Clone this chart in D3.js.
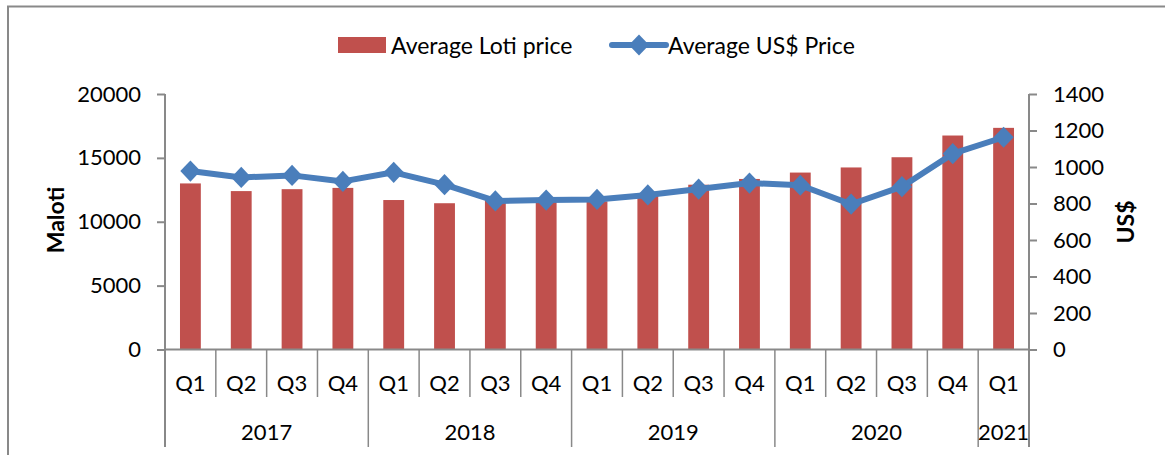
<!DOCTYPE html>

<head>
  <meta charset="utf-8">
  <title>Loti and US$ price</title>
  <script src="https://d3js.org/d3.v7.min.js"></script>
</head>

<body style="margin:0;background:#fff">
  <style>
  text {
    font-family: Lato, "Open Sans", sans-serif;
    fill: #000;
  }
  </style>
  <script>
    var quarters = ['Q1', 'Q2', 'Q3', 'Q4', 'Q1', 'Q2', 'Q3', 'Q4', 'Q1', 'Q2', 'Q3', 'Q4', 'Q1', 'Q2', 'Q3', 'Q4', 'Q1'];
    var years = ['2017', '2017', '2017', '2017', '2018', '2018', '2018', '2018', '2019', '2019', '2019', '2019', '2020', '2020', '2020', '2020', '2021'];
    var lotiPrice = [13000, 12400, 12550, 12650, 11700, 11450, 11700, 11600, 11600, 12100, 12900, 13350, 13850, 14250, 15050, 16750, 17350];
    var usdPrice = [978, 943, 954, 921, 971, 903, 814, 819, 822, 847, 879, 912, 900, 796, 892, 1073, 1163];
    var lotiTicks = [0, 5000, 10000, 15000, 20000];
    var usdTicks = [0, 200, 400, 600, 800, 1000, 1200, 1400];

    var width = 1165;
    var height = 455;
    var plotLeft = 165, plotRight = 1029, plotTop = 94, plotBottom = 349.5;
    var barColor = '#c0504d';
    var lineColor = '#4a7ebb';
    var axisColor = '#898989';

    var idx = d3.range(quarters.length);

    var svg = d3.select('body').append('svg').attr('width', width).attr('height', height);

    // outer chart border
    svg.append('rect')
      .attr('x', 8).attr('y', 6.5)
      .attr('width', 1200).attr('height', 500)
      .attr('fill', 'none').attr('stroke', axisColor).attr('stroke-width', 2);

    var xscale = d3.scaleBand().domain(idx).range([plotLeft, plotRight]);
    var yleft = d3.scaleLinear().domain([0, 20000]).range([plotBottom, plotTop]);
    var yright = d3.scaleLinear().domain([0, 1400]).range([plotBottom, plotTop]);

    // bars
    var barW = xscale.bandwidth() * 0.41;
    svg.selectAll('.bar')
      .data(lotiPrice)
      .enter()
      .append('rect')
      .attr('class', 'bar')
      .attr('x', function(d, i) {return xscale(i) + (xscale.bandwidth() - barW) / 2;})
      .attr('y', function(d) {return yleft(d);})
      .attr('width', barW)
      .attr('height', function(d) {return plotBottom - yleft(d);})
      .attr('fill', barColor);

    // axes
    var axisL = d3.axisLeft(yleft).tickValues(lotiTicks).tickSize(8).tickPadding(16).tickFormat(d3.format('d'));
    var axisR = d3.axisRight(yright).tickValues(usdTicks).tickSize(8).tickPadding(16).tickFormat(d3.format('d'));

    function styleAxis(g) {
      g.select('.domain').remove();
      g.selectAll('line').attr('stroke', axisColor).attr('stroke-width', 2);
      g.selectAll('text').attr('font-size', 22).attr('font-family', 'Lato, sans-serif');
    }

    svg.append('g').attr('transform', 'translate(' + plotLeft + ',0)').call(axisL).call(styleAxis);
    svg.append('g').attr('transform', 'translate(' + plotRight + ',0)').call(axisR).call(styleAxis);

    // vertical axis lines, extended down through category rows
    svg.append('line').attr('x1', plotLeft).attr('x2', plotLeft).attr('y1', plotTop).attr('y2', 447)
      .attr('stroke', axisColor).attr('stroke-width', 2);
    svg.append('line').attr('x1', plotRight).attr('x2', plotRight).attr('y1', plotTop).attr('y2', 447)
      .attr('stroke', axisColor).attr('stroke-width', 2);
    svg.append('line').attr('x1', plotLeft).attr('x2', plotRight).attr('y1', plotBottom).attr('y2', plotBottom)
      .attr('stroke', axisColor).attr('stroke-width', 2);

    // quarter separators and year separators
    idx.concat([quarters.length]).forEach(function(i) {
      var x = i < quarters.length ? xscale(i) : plotRight;
      var yearEdge = i === 0 || i === quarters.length || years[i] !== years[i - 1];
      svg.append('line')
        .attr('x1', x).attr('x2', x)
        .attr('y1', plotBottom).attr('y2', yearEdge ? 447 : 397)
        .attr('stroke', axisColor).attr('stroke-width', 1.5);
    });

    svg.selectAll('.qlab')
      .data(quarters)
      .enter()
      .append('text')
      .attr('class', 'qlab')
      .attr('x', function(d, i) {return xscale(i) + xscale.bandwidth() / 2;})
      .attr('y', 391)
      .attr('text-anchor', 'middle')
      .attr('font-size', 22)
      .text(function(d) {return d;});

    var yearGroups = d3.groups(idx, function(i) {return years[i];});
    svg.selectAll('.ylab')
      .data(yearGroups)
      .enter()
      .append('text')
      .attr('class', 'ylab')
      .attr('x', function(d) {
        var a = d[1][0], b = d[1][d[1].length - 1];
        return (xscale(a) + xscale(b) + xscale.bandwidth()) / 2;
      })
      .attr('y', 440)
      .attr('text-anchor', 'middle')
      .attr('font-size', 22)
      .text(function(d) {return d[0];});

    // line series
    var line = d3.line()
      .x(function(d, i) {return xscale(i) + xscale.bandwidth() / 2;})
      .y(function(d) {return yright(d);});

    svg.append('path')
      .datum(usdPrice)
      .attr('d', line)
      .attr('fill', 'none')
      .attr('stroke', lineColor)
      .attr('stroke-width', 6)
      .attr('stroke-linejoin', 'round');

    var diamond = d3.symbol().type(d3.symbolDiamond).size(130);
    svg.selectAll('.marker')
      .data(usdPrice)
      .enter()
      .append('path')
      .attr('class', 'marker')
      .attr('d', diamond)
      .attr('transform', function(d, i) {
        return 'translate(' + (xscale(i) + xscale.bandwidth() / 2) + ',' + yright(d) + ') scale(1.65,1)';
      })
      .attr('fill', lineColor);

    // axis titles
    svg.append('text')
      .attr('transform', 'translate(64,220) rotate(-90)')
      .attr('text-anchor', 'middle')
      .attr('font-size', 23).attr('font-weight', 'bold')
      .text('Maloti');
    svg.append('text')
      .attr('transform', 'translate(1134,222) rotate(-90)')
      .attr('text-anchor', 'middle')
      .attr('font-size', 23).attr('font-weight', 'bold')
      .text('US$');

    // legend
    var legend = svg.append('g');
    legend.append('rect')
      .attr('x', 338).attr('y', 37).attr('width', 48).attr('height', 16)
      .attr('fill', barColor);
    legend.append('text')
      .attr('x', 391).attr('y', 54)
      .attr('font-size', 23)
      .text('Average Loti price');
    legend.append('line')
      .attr('x1', 612).attr('x2', 666).attr('y1', 45).attr('y2', 45)
      .attr('stroke', lineColor).attr('stroke-width', 6).attr('stroke-linecap', 'round');
    legend.append('path')
      .attr('d', diamond)
      .attr('transform', 'translate(639,45) scale(1.65,1)')
      .attr('fill', lineColor);
    legend.append('text')
      .attr('x', 668).attr('y', 54)
      .attr('font-size', 23)
      .text('Average US$ Price');
  </script>
</body>
